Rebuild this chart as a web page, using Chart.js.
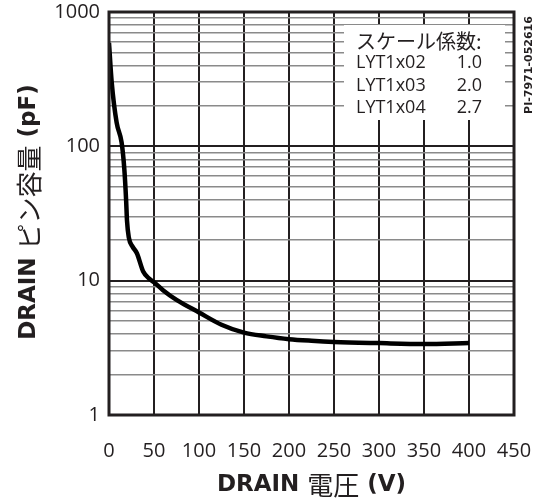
<!DOCTYPE html>
<html><head><meta charset="utf-8">
<script src="https://cdn.jsdelivr.net/npm/chart.js@4"></script>
<style>html,body{margin:0;padding:0;background:#fff}canvas{display:block}</style>
</head><body>
<canvas id="c" width="544" height="502"></canvas>
<script>
// ---- data ----
const voltage     = [0,   3,   8.5, 14,  17, 19, 20, 22, 26, 31, 38,   45,   51,  60,  75,  100, 125, 150, 175,  200,  225,  250, 300,  350,  400];
const capacitance = [590, 300, 150, 107, 68, 40, 28, 21, 18, 16, 11.7, 10.3, 9.6, 8.5, 7.2, 5.8, 4.7, 4.1, 3.85, 3.67, 3.57, 3.5, 3.43, 3.38, 3.43];
const xTicks = [0, 50, 100, 150, 200, 250, 300, 350, 400, 450];
const yDecades = [1, 10, 100, 1000];
const yMinorSteps = [1, 2, 3, 4, 5, 6, 7, 8, 9];
const xTitleParts = [['DRAIN ', true], ['電圧', false], [' (V)', true]];
const yTitleParts = [['DRAIN ', true], ['ピン容量', false], [' (pF)', true]];
const legendTitle = 'スケール係数:';
const legendParts = ['LYT1x02', 'LYT1x03', 'LYT1x04'];
const legendFactors = ['1.0', '2.0', '2.7'];
const docId = 'PI-7971-052616';

// ---- derived ----
const yGridValues = [];
for (let i = 0; i < yDecades.length - 1; i++) {
  for (const m of yMinorSteps) yGridValues.push(yDecades[i] * m);
}
yGridValues.push(yDecades[yDecades.length - 1]);
const points = voltage.map((v, i) => ({x: v, y: capacitance[i]}));

const INK = '#231f20';
const BOLD = 'bold 23px "DejaVu Sans", Verdana, sans-serif';
const CJK = '26px "Noto Sans CJK JP", sans-serif';
const TICKFONT = {family: '"Open Sans", sans-serif', size: 20};

function drawParts(ctx, parts, cx, cy) {
  let total = 0;
  const w = parts.map(([t, b]) => { ctx.font = b ? BOLD : CJK; const m = ctx.measureText(t).width; total += m; return m; });
  let x = cx - total / 2;
  ctx.textBaseline = 'middle';
  ctx.textAlign = 'left';
  parts.forEach(([t, b], i) => { ctx.font = b ? BOLD : CJK; ctx.fillText(t, x, cy); x += w[i]; });
}

const decor = {
  id: 'decor',
  beforeDatasetsDraw(chart) {
    const ctx = chart.ctx;
    ctx.save();
    ctx.fillStyle = '#fff';
    ctx.fillRect(344, 25, 161, 95);
    ctx.fillStyle = INK;
    ctx.textBaseline = 'middle';
    ctx.textAlign = 'left';
    ctx.font = '20px "Noto Sans CJK JP", sans-serif';
    ctx.fillText(legendTitle, 356, 41);
    ctx.font = '18px "Open Sans", sans-serif';
    legendParts.forEach((p, i) => {
      const y = 63 + i * 22.5;
      ctx.textAlign = 'left';
      ctx.fillText(p, 356, y);
      ctx.textAlign = 'right';
      ctx.fillText(legendFactors[i], 482, y);
    });
    ctx.restore();
  },
  afterDraw(chart) {
    const ctx = chart.ctx;
    const a = chart.chartArea;
    ctx.save();
    ctx.fillStyle = INK;
    drawParts(ctx, xTitleParts, (a.left + a.right) / 2, 485);
    ctx.save();
    ctx.translate(29, 212);
    ctx.rotate(-Math.PI / 2);
    drawParts(ctx, yTitleParts, 0, 0);
    ctx.restore();
    ctx.save();
    ctx.translate(529, 65);
    ctx.rotate(-Math.PI / 2);
    ctx.font = 'bold 11px "DejaVu Sans", sans-serif';
    ctx.textAlign = 'center';
    ctx.textBaseline = 'middle';
    ctx.fillText(docId, 0, 0);
    ctx.restore();
    ctx.strokeStyle = INK;
    ctx.lineWidth = 3;
    ctx.strokeRect(a.left, a.top, a.right - a.left, a.bottom - a.top);
    ctx.restore();
  }
};

new Chart(document.getElementById('c'), {
  type: 'line',
  data: {
    datasets: [{
      data: points,
      borderColor: '#000',
      borderWidth: 4.5,
      pointRadius: 0,
      cubicInterpolationMode: 'monotone',
      fill: false
    }]
  },
  options: {
    responsive: false,
    animation: false,
    devicePixelRatio: 1,
    layout: {padding: {top: 12, right: 30, left: 0, bottom: 0}},
    plugins: {legend: {display: false}, tooltip: {enabled: false}},
    scales: {
      x: {
        type: 'linear', min: 0, max: 450,
        afterBuildTicks: s => { s.ticks = xTicks.map(v => ({value: v})); },
        afterFit: s => { s.height = 87; s.paddingLeft = 0; s.paddingRight = 0; },
        grid: {color: INK, lineWidth: 2, drawTicks: false},
        border: {display: false},
        ticks: {color: INK, font: TICKFONT, padding: 24, maxRotation: 0, autoSkip: false}
      },
      y: {
        type: 'logarithmic', min: 1, max: 1000,
        afterBuildTicks: s => { s.ticks = yGridValues.map(v => ({value: v, major: yDecades.includes(v)})); },
        afterFit: s => { s.width = 109; s.paddingTop = 0; s.paddingBottom = 0; },
        grid: {
          drawTicks: false,
          color: c => yDecades.includes(c.tick.value) ? INK : '#8a8a8a',
          lineWidth: c => yDecades.includes(c.tick.value) ? 2 : 1.5
        },
        border: {display: false},
        ticks: {
          color: INK, font: TICKFONT, padding: 9, autoSkip: false,
          callback: v => yDecades.includes(v) ? String(v) : ''
        }
      }
    }
  },
  plugins: [decor]
});
</script>
</body></html>
